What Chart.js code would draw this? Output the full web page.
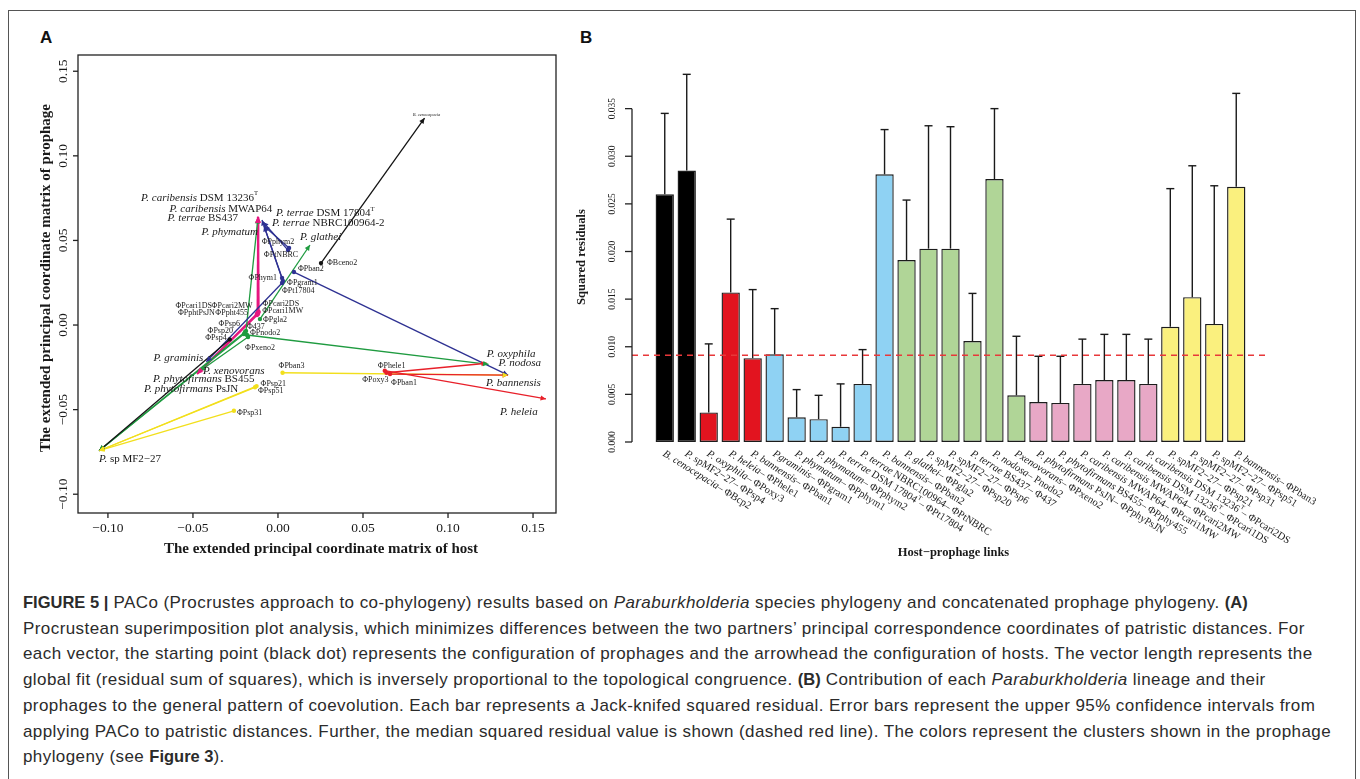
<!DOCTYPE html>
<html>
<head>
<meta charset="utf-8">
<script src="https://cdn.jsdelivr.net/npm/chart.js@4.4.1/dist/chart.umd.min.js"></script>
<style>
  body { margin: 0; width: 1360px; height: 779px; overflow: hidden; position: relative; background: #fff; }
  #frame { position: absolute; left: 8px; top: 10px; width: 1346px; height: 800px; border: 1.5px solid #555; border-bottom: none; }
  canvas { position: absolute; top: 0; }
  #cA { left: 0; }
  #cB { left: 570px; }
  .panel { position: absolute; font: bold 17px "Liberation Sans", Arial, sans-serif; color: #111; }
  #cap { position: absolute; left: 23px; top: 590px; font: 17px "Liberation Sans", Arial, sans-serif; letter-spacing: 0.42px; color: #2b2b2b; line-height: 25.7px; }
  #cap div { white-space: nowrap; }
  #cap b { font-size: 16.5px; letter-spacing: 0; }
</style>
</head>
<body>
<div id="frame"></div>
<div class="panel" style="left:40px;top:28px">A</div>
<div class="panel" style="left:580px;top:28px">B</div>
<canvas id="cA" width="570" height="570"></canvas>
<canvas id="cB" width="790" height="570"></canvas>
<div id="cap">
  <div><b>FIGURE 5 |</b> PACo (Procrustes approach to co-phylogeny) results based on <i>Paraburkholderia</i> species phylogeny and concatenated prophage phylogeny. <b>(A)</b></div>
  <div>Procrustean superimposition plot analysis, which minimizes differences between the two partners’ principal correspondence coordinates of patristic distances. For</div>
  <div>each vector, the starting point (black dot) represents the configuration of prophages and the arrowhead the configuration of hosts. The vector length represents the</div>
  <div>global fit (residual sum of squares), which is inversely proportional to the topological congruence. <b>(B)</b> Contribution of each <i>Paraburkholderia</i> lineage and their</div>
  <div>prophages to the general pattern of coevolution. Each bar represents a Jack-knifed squared residual. Error bars represent the upper 95% confidence intervals from</div>
  <div>applying PACo to patristic distances. Further, the median squared residual value is shown (dashed red line). The colors represent the clusters shown in the prophage</div>
  <div>phylogeny (see <b>Figure 3</b>).</div>
</div>
<script>
// ---- panel A: host configuration (arrowheads) ----
const hostNames = ['B. cenocepacia', 'P. caribensis DSM 13236^T', 'P. caribensis MWAP64', 'P. terrae BS437',
  'P. terrae DSM 17804^T', 'P. terrae NBRC100964-2', 'P. phymatum', 'P. glathei', 'P. graminis',
  'P. xenovorans', 'P. phytofirmans BS455', 'P. phytofirmans PsJN', 'P. oxyphila', 'P. nodosa',
  'P. bannensis', 'P. heleia', 'P. sp MF2−27'];
const hostX = [0.0862, -0.0118, -0.0116, -0.0118, -0.0094, -0.0088, -0.0082, 0.0188, -0.0421,
  -0.0459, -0.0471, -0.0476, 0.1228, 0.1238, 0.1353, 0.1576, -0.1052];
const hostY = [0.1223, 0.0640, 0.0636, 0.0632, 0.0621, 0.0609, 0.0585, 0.0473, -0.0217,
  -0.0272, -0.0284, -0.0290, -0.0226, -0.0232, -0.0296, -0.0437, -0.0743];

// ---- panel A: prophage configuration (start points) and the host each one links to ----
const phageNames = ['ΦBceno2', 'ΦPsp4', 'ΦPoxy3', 'ΦPhele1', 'ΦPban1', 'ΦPgram1', 'ΦPhym1', 'ΦPphym2',
  'ΦPt17804', 'ΦPtNBRC', 'ΦPban2', 'ΦPgla2', 'ΦPsp20', 'ΦPsp6', 'Φ437', 'ΦPnodo2', 'ΦPxeno2',
  'ΦPphtPsJN', 'ΦPpht455', 'ΦPcari1MW', 'ΦPcari2MW', 'ΦPcari1DS', 'ΦPcari2DS', 'ΦPsp21', 'ΦPsp31',
  'ΦPsp51', 'ΦPban3'];
const phageX = [0.0253, -0.0284, 0.0638, 0.0628, 0.0659, 0.0024, 0.0024, 0.0065, 0.0029, 0.0059, 0.0094,
  -0.0106, -0.0200, -0.0194, -0.0188, -0.0182, -0.0176, -0.0124, -0.0124, -0.0116, -0.0120, -0.0118,
  -0.0114, -0.0126, -0.0259, -0.0135, 0.0027];
const phageY = [0.0366, -0.0085, -0.0282, -0.0270, -0.0290, 0.0248, 0.0278, 0.0455, 0.0260, 0.0443, 0.0313,
  0.0035, -0.0053, -0.0041, -0.0035, -0.0059, -0.0071, 0.0065, 0.0059, 0.0077, 0.0071, 0.0065,
  0.0077, -0.0361, -0.0507, -0.0368, -0.0282];
const phageHost = [0, 16, 12, 15, 14, 8, 6, 6, 4, 5, 14, 7, 16, 16, 3, 13, 9, 11, 10, 2, 2, 1, 1, 16, 16, 16, 14];
const linkCluster = ['black', 'black', 'red', 'red', 'red', 'blue', 'blue', 'blue', 'blue', 'blue', 'blue',
  'green', 'green', 'green', 'green', 'green', 'green', 'pink', 'pink', 'pink', 'pink', 'pink', 'pink',
  'yellow', 'yellow', 'yellow', 'yellow'];
const xTicksA = [-0.10, -0.05, 0.00, 0.05, 0.10, 0.15];
const yTicksA = [-0.10, -0.05, 0.00, 0.05, 0.10, 0.15];

// ---- panel B: jack-knifed squared residuals ----
const barHosts = ['B. cenocepacia', 'P. spMF2−27', 'P. oxyphila', 'P. heleia', 'P. bannensis', 'Pgraminis',
  'P. phymatum', 'P. phymatum', 'P. terrae DSM 17804^T', 'P. terrae NBRC100964', 'P. bannensis', 'P. glathei',
  'P. spMF2−27', 'P. spMF2−27', 'P. terrae BS437', 'P. nodosa', 'Pxenovorans', 'P. phytofirmans PsJN',
  'P. phytofirmans BS455', 'P. caribensis MWAP64', 'P. caribensis MWAP64', 'P. caribensis DSM 13236^T',
  'P. caribensis DSM 13236^T', 'P. spMF2−27', 'P. spMF2−27', 'P. spMF2−27', 'P. bannensis'];
const barPhages = ['ΦBcp2', 'ΦPsp4', 'ΦPoxy3', 'ΦPhele1', 'ΦPban1', 'ΦPgram1', 'ΦPphym1', 'ΦPphym2',
  'ΦPt17804', 'ΦPtNBRC', 'ΦPban2', 'ΦPgla2', 'ΦPsp20', 'ΦPsp6', 'Φ437', 'Pnodo2', 'ΦPxeno2', 'ΦPphyPsJN',
  'ΦPphy455', 'ΦPcari1MW', 'ΦPcari2MW', 'ΦPcari1DS', 'ΦPcari2DS', 'ΦPsp21', 'ΦPsp31', 'ΦPsp51', 'ΦPban3'];
const residuals = [0.0260, 0.0285, 0.0031, 0.0157, 0.0088, 0.0092, 0.0026, 0.0024, 0.0016, 0.0061, 0.0281,
  0.0191, 0.0203, 0.0203, 0.0106, 0.0276, 0.0049, 0.0042, 0.0041, 0.0061, 0.0065, 0.0065, 0.0061,
  0.0121, 0.0152, 0.0124, 0.0268];
const upperCI = [0.0345, 0.0386, 0.0103, 0.0234, 0.0160, 0.0140, 0.0055, 0.0049, 0.0061, 0.0097, 0.0328,
  0.0254, 0.0332, 0.0331, 0.0156, 0.0350, 0.0111, 0.0090, 0.0090, 0.0108, 0.0113, 0.0113, 0.0108,
  0.0266, 0.0290, 0.0269, 0.0366];
const medianResidual = 0.0091;
const yTicksB = [0, 0.005, 0.010, 0.015, 0.020, 0.025, 0.030, 0.035];

// colours
const lineColour = { black: '#141414', red: '#e8202a', blue: '#2e3192', green: '#1f9b40', pink: '#e6177f', yellow: '#f2df1c' };
const fillColour = { black: '#000000', red: '#e2141f', blue: '#8fd2f3', green: '#b0d597', pink: '#e8a8c6', yellow: '#faf07e' };

// label placement (pixel offsets from the point, alignment)
const phageLabelPos = [[6, 0, 'left'], [-3, -2, 'right'], [2, 7, 'right'], [-7, -5, 'left'], [1, 9, 'left'],
  [5, 0, 'left'], [-5, 0, 'right'], [-11, -6, 'center'], [-1, 10, 'left'], [-7, 5, 'center'], [4, -3, 'left'],
  [3, 1, 'left'], [-11, -3, 'right'], [-5, -8, 'right'], [1, -4, 'left'], [3, -2, 'left'], [-3, 11, 'left'],
  [-42, -1, 'right'], [-9, -2, 'right'], [4, -1, 'left'], [-5, -7, 'right'], [-46, -8, 'right'], [4, -8, 'left'],
  [4, -2, 'left'], [3, 2, 'left'], [3, 4, 'left'], [-4, -7, 'left']];
const hostLabelPos = [[2, -3, 'center'], [0, -19, 'right'], [14, -8, 'right'], [-20, 0, 'right'], [14, -7, 'left'],
  [9, 1, 'left'], [-6, 6, 'right'], [-10, -8, 'left'], [-3, -4, 'right'], [3, 0, 'left'], [-45, 6, 'left'],
  [-53, 15, 'left'], [0, -9, 'left'], [10, -1, 'left'], [-22, 8, 'left'], [-46, 13, 'left'], [0, 8, 'left']];

const serif = '"Liberation Serif", "Times New Roman", serif';
const ink = '#1a1a1a';

// italic species name, upright strain, "^" marks a superscript
function nameParts(s) {
  const words = s.split(' ');
  let k = 1;
  if (words.length > 1 && /^[a-z]+$/.test(words[1]) && words[1] !== 'sp') k = 2;
  const parts = [{ t: words.slice(0, k).join(' '), i: true }];
  const rest = words.slice(k).join(' ');
  if (rest) {
    const bits = (' ' + rest).split('^');
    parts.push({ t: bits[0] });
    if (bits[1]) parts.push({ t: bits[1], sup: true });
  }
  return parts;
}

function drawRich(ctx, parts, x, y, size, align) {
  const font = p => (p.i ? 'italic ' : '') + (p.sup ? size * 0.6 : size) + 'px ' + serif;
  let w = 0;
  parts.forEach(p => { ctx.font = font(p); w += ctx.measureText(p.t).width; });
  let cx = align === 'right' ? x - w : align === 'center' ? x - w / 2 : x;
  ctx.textAlign = 'left';
  parts.forEach(p => {
    ctx.font = font(p);
    ctx.fillText(p.t, cx, p.sup ? y - size * 0.38 : y);
    cx += ctx.measureText(p.t).width;
  });
}

function seg(ctx, x1, y1, x2, y2) {
  ctx.beginPath(); ctx.moveTo(x1, y1); ctx.lineTo(x2, y2); ctx.stroke();
}

const fmt = (v, d) => (v < 0 ? '−' : '') + Math.abs(v).toFixed(d);

// ---------- panel A ----------
const procrustesPlugin = {
  id: 'procrustes',
  afterDatasetsDraw(chart) {
    const { ctx, scales: { x, y } } = chart;
    ctx.save();
    // arrowheads at the host end
    phageNames.forEach((p, i) => {
      const h = phageHost[i];
      const x1 = x.getPixelForValue(phageX[i]), y1 = y.getPixelForValue(phageY[i]);
      const x2 = x.getPixelForValue(hostX[h]), y2 = y.getPixelForValue(hostY[h]);
      const ang = Math.atan2(y2 - y1, x2 - x1), len = 6;
      ctx.strokeStyle = ctx.fillStyle = lineColour[linkCluster[i]];
      ctx.beginPath();
      ctx.moveTo(x2, y2);
      ctx.lineTo(x2 - len * Math.cos(ang - 0.45), y2 - len * Math.sin(ang - 0.45));
      ctx.lineTo(x2 - len * Math.cos(ang + 0.45), y2 - len * Math.sin(ang + 0.45));
      ctx.closePath();
      ctx.fill();
    });
    ctx.fillStyle = ink;
    ctx.textBaseline = 'middle';
    // prophage labels
    phageNames.forEach((p, i) => {
      const [dx, dy, al] = phageLabelPos[i];
      ctx.font = '8px ' + serif;
      ctx.textAlign = al;
      ctx.fillText(p, x.getPixelForValue(phageX[i]) + dx, y.getPixelForValue(phageY[i]) + dy);
    });
    // host labels
    hostNames.forEach((h, i) => {
      const [dx, dy, al] = hostLabelPos[i];
      const size = i === 0 ? 4.5 : 11;
      drawRich(ctx, nameParts(h), x.getPixelForValue(hostX[i]) + dx, y.getPixelForValue(hostY[i]) + dy, size, al);
    });
    ctx.restore();
  },
  afterDraw(chart) {
    const { ctx, chartArea: a, scales: { x, y } } = chart;
    ctx.save();
    ctx.strokeStyle = '#222';
    ctx.lineWidth = 1.3;
    ctx.strokeRect(a.left, a.top, a.right - a.left, a.bottom - a.top);
    ctx.fillStyle = ink;
    ctx.font = '13.5px ' + serif;
    ctx.textAlign = 'center';
    ctx.textBaseline = 'middle';
    xTicksA.forEach(v => {
      const px = x.getPixelForValue(v);
      seg(ctx, px, a.bottom, px, a.bottom + 5);
      ctx.fillText(fmt(v, 2), px, a.bottom + 15);
    });
    yTicksA.forEach(v => {
      const py = y.getPixelForValue(v);
      seg(ctx, a.left - 5, py, a.left, py);
      ctx.save();
      ctx.translate(a.left - 15, py);
      ctx.rotate(-Math.PI / 2);
      ctx.fillText(fmt(v, 2), 0, 0);
      ctx.restore();
    });
    ctx.font = 'bold 15px ' + serif;
    ctx.fillText('The extended principal coordinate matrix of host', (a.left + a.right) / 2 + 4, a.bottom + 36);
    ctx.save();
    ctx.translate(a.left - 32, (a.top + a.bottom) / 2 - 6);
    ctx.rotate(-Math.PI / 2);
    ctx.fillText('The extended principal coordinate matrix of prophage', 0, 0);
    ctx.restore();
    ctx.restore();
  }
};

new Chart(document.getElementById('cA'), {
  type: 'scatter',
  data: {
    datasets: phageNames.map((p, i) => {
      const c = lineColour[linkCluster[i]];
      return {
        label: p,
        data: [{ x: phageX[i], y: phageY[i] }, { x: hostX[phageHost[i]], y: hostY[phageHost[i]] }],
        showLine: true,
        borderColor: c,
        borderWidth: linkCluster[i] === 'pink' ? 2 : 1.3,
        pointRadius: [2.2, 0],
        pointBorderWidth: 0,
        pointBackgroundColor: c
      };
    })
  },
  options: {
    responsive: false,
    animation: false,
    devicePixelRatio: 1,
    layout: { padding: { left: 78, top: 55, right: 14, bottom: 57 } },
    scales: {
      x: { type: 'linear', min: -0.1176, max: 0.1635, display: false },
      y: { type: 'linear', min: -0.1111, max: 0.1596, display: false }
    },
    plugins: { legend: { display: false }, tooltip: { enabled: false } }
  },
  plugins: [procrustesPlugin]
});

// ---------- panel B ----------
// barplot geometry: bar width 1, gap 0.2, x range padded by 4%
const barCentre = barHosts.map((h, i) => 0.7 + 1.2 * i);
const xLo = 0.2, xHi = 1.2 * barHosts.length;
const xPad = 0.04 * (xHi - xLo);
const barCluster = linkCluster;

const residualPlugin = {
  id: 'residuals',
  afterDatasetsDraw(chart) {
    const { ctx, chartArea: a, scales: { x, y } } = chart;
    ctx.save();
    // error bars (upper CI only)
    ctx.strokeStyle = '#1a1a1a';
    ctx.lineWidth = 1.4;
    residuals.forEach((v, i) => {
      const px = x.getPixelForValue(barCentre[i]);
      const top = y.getPixelForValue(upperCI[i]);
      seg(ctx, px, y.getPixelForValue(v), px, top);
      seg(ctx, px - 4, top, px + 4, top);
    });
    // median line
    ctx.strokeStyle = '#e8383a';
    ctx.lineWidth = 1.6;
    ctx.setLineDash([6, 5]);
    const my = y.getPixelForValue(medianResidual);
    seg(ctx, a.left, my, a.right, my);
    ctx.setLineDash([]);
    // y axis
    ctx.strokeStyle = '#222';
    ctx.lineWidth = 1.3;
    seg(ctx, a.left, y.getPixelForValue(0), a.left, y.getPixelForValue(yTicksB[yTicksB.length - 1]));
    ctx.fillStyle = ink;
    ctx.textAlign = 'center';
    ctx.textBaseline = 'middle';
    ctx.font = '9.5px ' + serif;
    yTicksB.forEach(v => {
      const py = y.getPixelForValue(v);
      seg(ctx, a.left - 7, py, a.left, py);
      ctx.save();
      ctx.translate(a.left - 20, py);
      ctx.rotate(-Math.PI / 2);
      ctx.fillText(fmt(v, 3), 0, 0);
      ctx.restore();
    });
    ctx.font = 'bold 12.5px ' + serif;
    ctx.save();
    ctx.translate(a.left - 50, 257);
    ctx.rotate(-Math.PI / 2);
    ctx.fillText('Squared residuals', 0, 0);
    ctx.restore();
    ctx.fillText('Host−prophage links', (a.left + a.right) / 2 + 3, a.bottom + 111);
    // slanted link labels
    barHosts.forEach((h, i) => {
      ctx.save();
      ctx.translate(x.getPixelForValue(barCentre[i]) - 1, a.bottom + 11);
      ctx.rotate(32 * Math.PI / 180);
      drawRich(ctx, nameParts(h).concat([{ t: '– ' + barPhages[i] }]), 0, 0, 10.5, 'left');
      ctx.restore();
    });
    ctx.restore();
  }
};

new Chart(document.getElementById('cB'), {
  type: 'bar',
  data: {
    datasets: [{
      data: residuals.map((v, i) => ({ x: barCentre[i], y: v })),
      backgroundColor: barCluster.map(c => fillColour[c]),
      borderColor: '#1c1c1c',
      borderWidth: 1.4,
      borderSkipped: false,
      categoryPercentage: 1,
      barPercentage: 1 / 1.2
    }]
  },
  options: {
    responsive: false,
    animation: false,
    devicePixelRatio: 1,
    layout: { padding: { left: 62, top: 61, right: 91, bottom: 128 } },
    scales: {
      x: { type: 'linear', offset: false, min: xLo - xPad, max: xHi + xPad, display: false },
      y: { min: 0, max: 0.04, display: false }
    },
    plugins: { legend: { display: false }, tooltip: { enabled: false } }
  },
  plugins: [residualPlugin]
});
</script>
</body>
</html>
